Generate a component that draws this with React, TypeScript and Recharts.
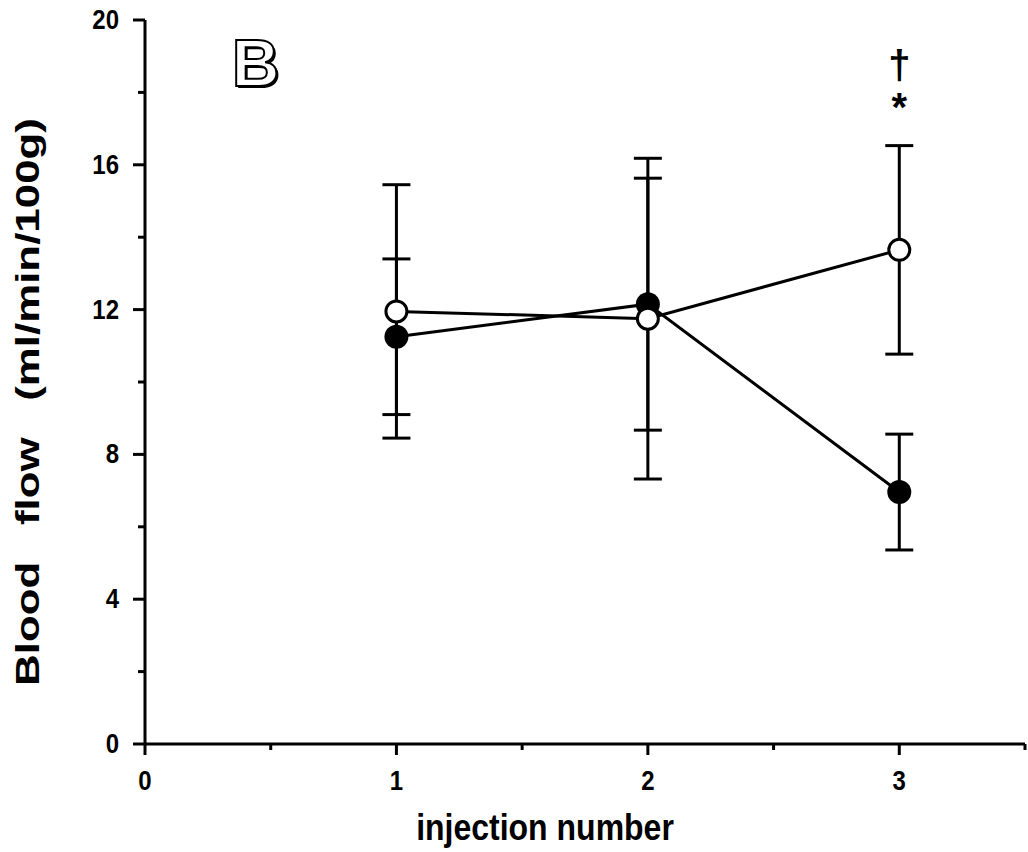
import { LineChart, Line, XAxis, YAxis, ErrorBar, ReferenceDot } from 'recharts'

const injections = [1, 2, 3]
const filledMean = [11.25, 12.15, 6.96]
const filledSem = [2.15, 3.48, 1.6]
const openMean = [11.95, 11.75, 13.65]
const openSem = [3.5, 4.43, 2.88]

const xTicks = [0, 0.5, 1, 1.5, 2, 2.5, 3, 3.5]
const yTicks = [0, 2, 4, 6, 8, 10, 12, 14, 16, 18, 20]

const data = injections.map((n, i) => ({
  n,
  filled: filledMean[i],
  filledErr: filledSem[i],
  open: openMean[i],
  openErr: openSem[i],
}))

const font = '"Liberation Sans", Arial, sans-serif'

const XTick = (props: any) => {
  const { x, y, payload } = props
  const major = Number.isInteger(payload.value)
  return (
    <g>
      <line x1={x} x2={x} y1={y} y2={y + (major ? 11 : 6)} stroke="#000" strokeWidth={3} />
      {major && (
        <text transform={`translate(${x} ${y + 46}) scale(1 1.15)`} textAnchor="middle" fontFamily={font}
          fontWeight="bold" fontSize={24} fill="#000">
          {payload.value}
        </text>
      )}
    </g>
  )
}

const YTick = (props: any) => {
  const { x, y, payload } = props
  const major = payload.value % 4 === 0
  return (
    <g>
      <line x1={x - (major ? 12 : 7)} x2={x} y1={y} y2={y} stroke="#000" strokeWidth={3} />
      {major && (
        <text transform={`translate(${x - 26} ${y + 9}) scale(1 1.15)`} textAnchor="end" fontFamily={font}
          fontWeight="bold" fontSize={24} fill="#000">
          {payload.value}
        </text>
      )}
    </g>
  )
}

const OpenDot = (props: any) => {
  const { cx, cy } = props
  return <circle cx={cx} cy={cy} r={10.5} fill="#fff" stroke="#000" strokeWidth={3} />
}

const FilledDot = (props: any) => {
  const { cx, cy } = props
  return <circle cx={cx} cy={cy} r={12} fill="#000" />
}

const Mark = (text: string, size: number) => (props: any) => {
  const { viewBox } = props
  return (
    <text x={viewBox.x + viewBox.width / 2} y={viewBox.y + viewBox.height / 2} textAnchor="middle"
      dominantBaseline="central" fontFamily={font} fontWeight="bold" fontSize={size} fill="#000">
      {text}
    </text>
  )
}

const PanelLetter = (props: any) => {
  const { viewBox } = props
  const cx = viewBox.x + viewBox.width / 2
  const cy = viewBox.y + viewBox.height / 2
  return (
    <g fontFamily={font} fontWeight="bold" fontSize={66} textAnchor="middle" dominantBaseline="central">
      <text x={cx + 2} y={cy + 2} fill="#000">B</text>
      <text x={cx} y={cy} fill="#fff" stroke="#000" strokeWidth={2}>B</text>
    </g>
  )
}

export default function App() {
  return (
    <div style={{ position: 'absolute', left: 0, top: 0, background: '#fff' }}>
      <LineChart width={1028} height={852} data={data} margin={{ top: 20, right: 3, bottom: 0, left: 0 }}>
        <XAxis
          dataKey="n"
          type="number"
          domain={[0, 3.5]}
          ticks={xTicks}
          interval={0}
          tickSize={0}
          tickMargin={0}
          tick={<XTick />}
          height={108}
          axisLine={{ stroke: '#000', strokeWidth: 3 }}
          tickLine={false}
        />
        <YAxis
          type="number"
          domain={[0, 20]}
          ticks={yTicks}
          interval={0}
          tickSize={0}
          tickMargin={0}
          tick={<YTick />}
          width={145}
          axisLine={{ stroke: '#000', strokeWidth: 3 }}
          tickLine={false}
        />
        <text transform="translate(545 840) scale(1 1.15)" textAnchor="middle" fontFamily={font} fontWeight="bold"
          fontSize={32} fill="#000">
          injection number
        </text>
        <text x={0} y={0} transform="translate(28 402) rotate(-90) scale(1.33 1)" textAnchor="middle"
          dominantBaseline="central" fontFamily={font} fontWeight="bold" fontSize={33} fill="#000"
          style={{ whiteSpace: 'pre' }}>
          {'Blood   flow   (ml/min/100g)'}
        </text>
        <Line dataKey="filled" stroke="#000" strokeWidth={3} dot={<FilledDot />} isAnimationActive={false}>
          <ErrorBar dataKey="filledErr" direction="y" width={14} stroke="#000" strokeWidth={3} />
        </Line>
        <Line dataKey="open" stroke="#000" strokeWidth={3} dot={<OpenDot />} isAnimationActive={false}>
          <ErrorBar dataKey="openErr" direction="y" width={14} stroke="#000" strokeWidth={3} />
        </Line>
        <ReferenceDot x={3} y={18.75} r={0} stroke="none" label={Mark('†', 40)} />
        <ReferenceDot x={3} y={17.6} r={0} stroke="none" label={Mark('*', 40)} />
        <ReferenceDot x={0.44} y={18.8} r={0} stroke="none" label={<PanelLetter />} />
      </LineChart>
    </div>
  )
}
